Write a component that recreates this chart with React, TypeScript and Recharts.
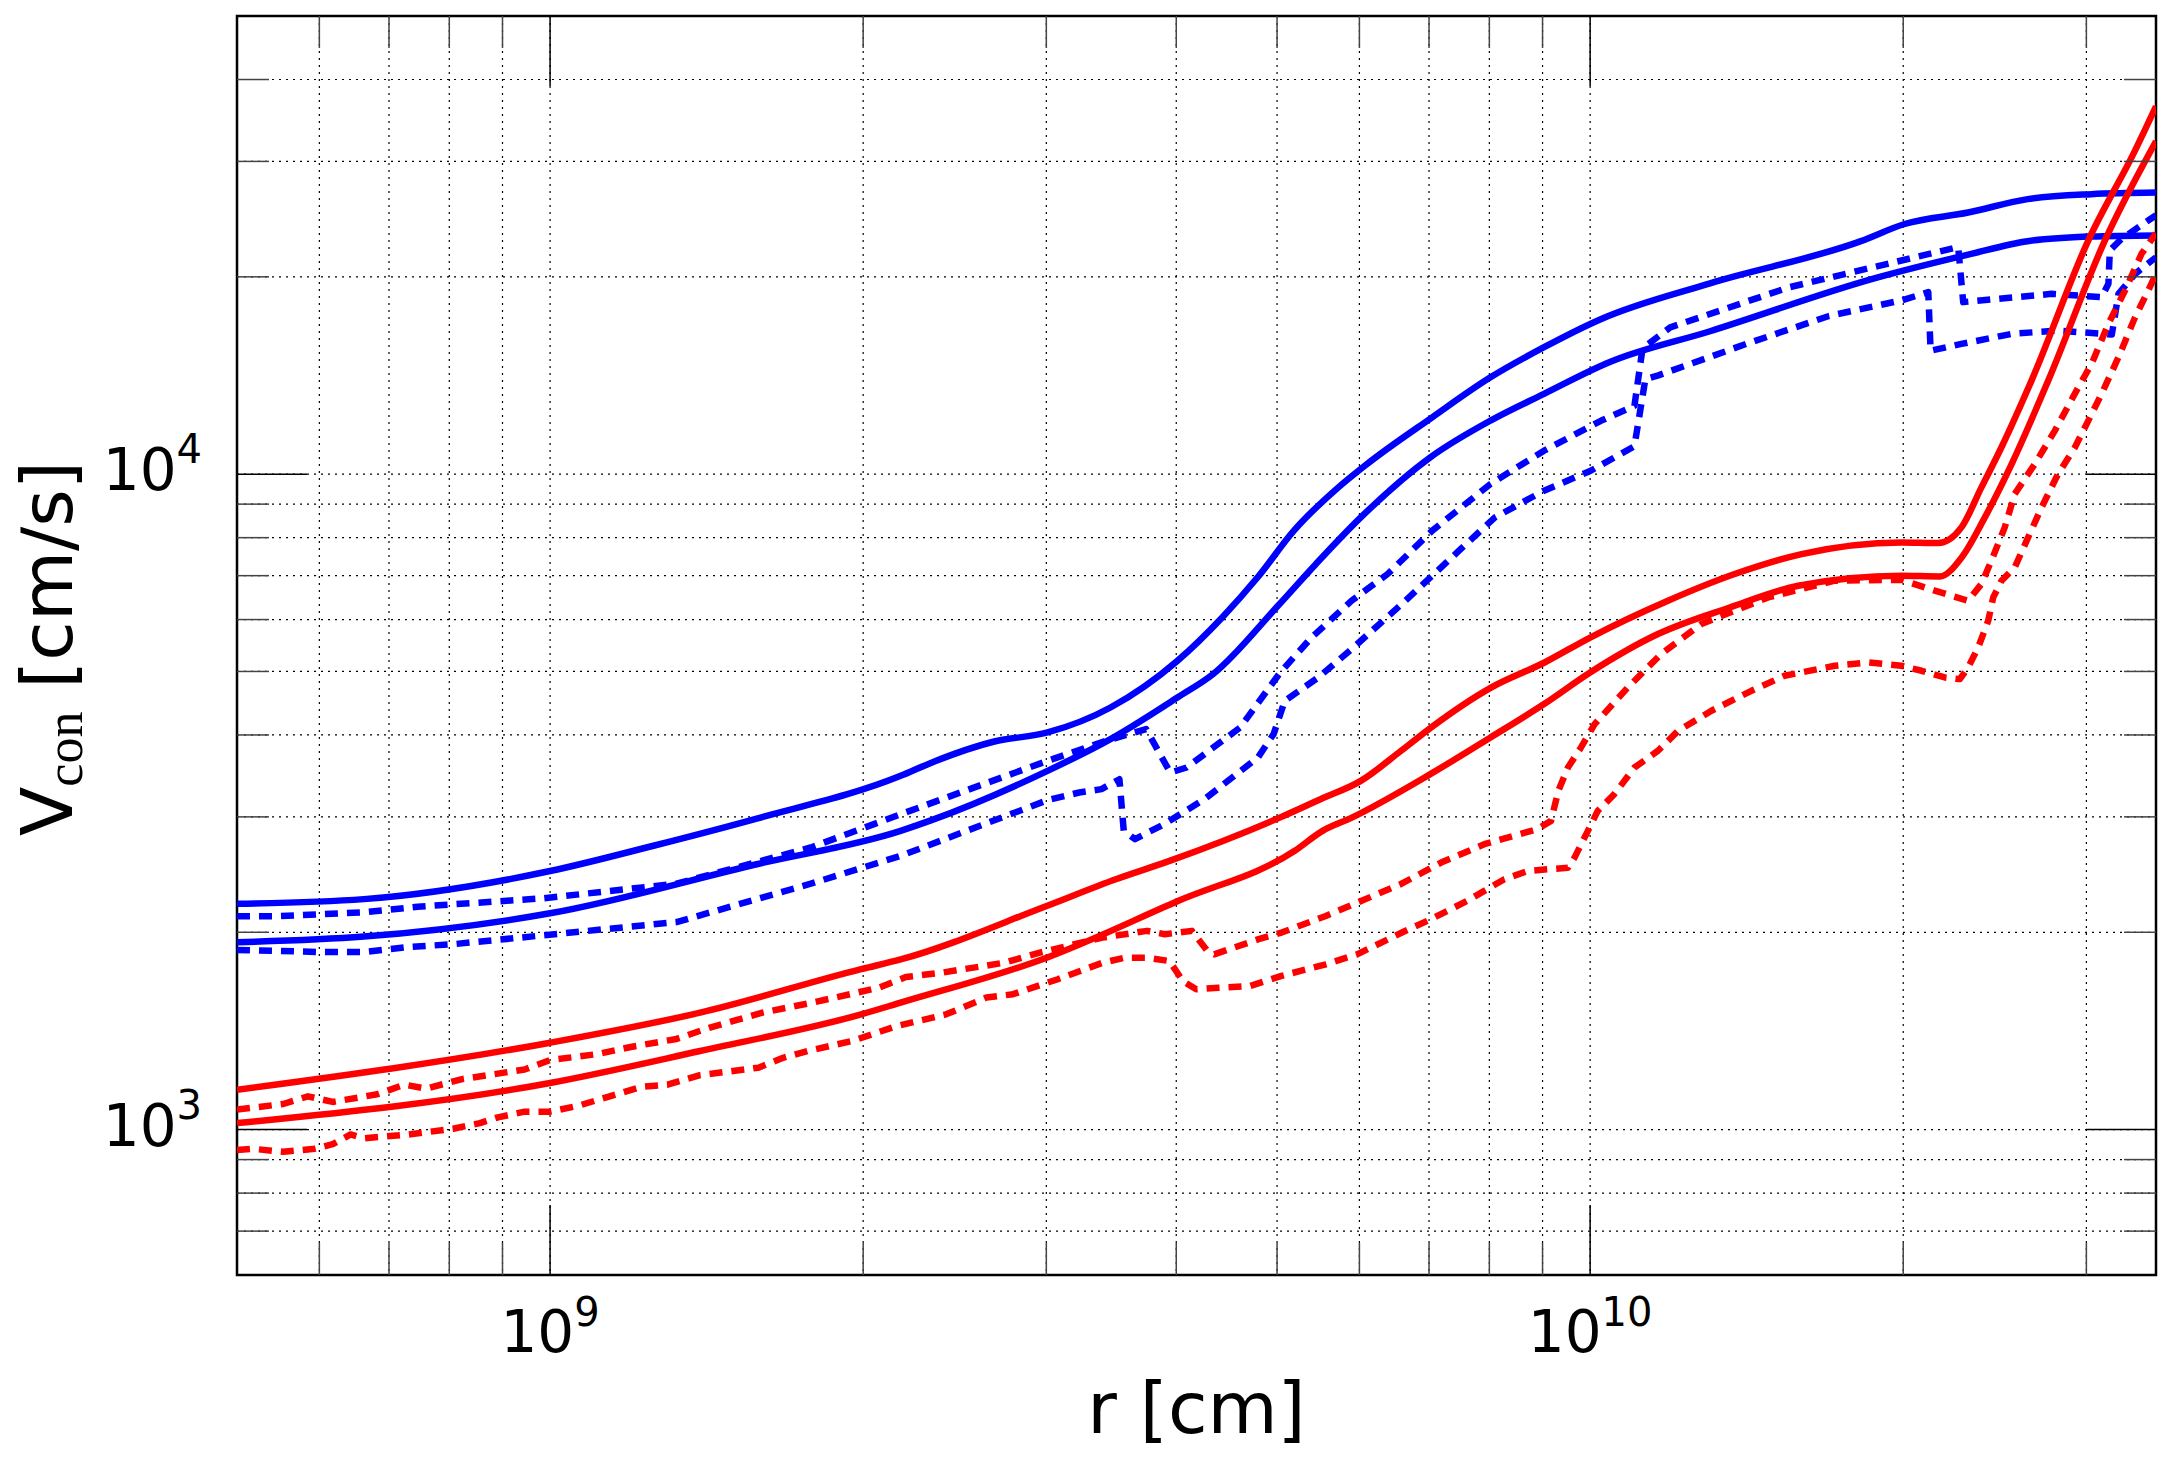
import { LineChart, Line, XAxis, YAxis, CartesianGrid, ReferenceArea } from "recharts";

type Pt = { r: number; v: number };
const pts = (rows: number[][]): Pt[] => rows.map(([r, v]) => ({ r, v }));

// r [cm] vs V_con [cm/s]
const blueSolidUpper = pts([
  [5e8, 2210], [6.62e8, 2247], [1.0e9, 2480], [1.26e9, 2713], [1.58e9, 2982], [2.173e9, 3465],
  [2.32e9, 3623], [2.674e9, 3909], [3.008e9, 4035], [3.458e9, 4405], [4.011e9, 5192], [4.428e9, 6045],
  [4.79e9, 6960], [5.19e9, 8200], [5.727e9, 9547], [6.077e9, 10310], [7.05e9, 12210], [8.02e9, 14050],
  [9.03e9, 15620], [1.025e10, 17250], [1.304e10, 19550], [1.821e10, 22670], [2.006e10, 24080],
  [2.309e10, 25070], [2.634e10, 26280], [3.033e10, 26740], [3.5e10, 26890],
]);

const blueSolidLower = pts([
  [5e8, 1931], [6.62e8, 1970], [1.0e9, 2138], [1.58e9, 2540], [2.173e9, 2856], [2.32e9, 2960],
  [3.008e9, 3526], [3.458e9, 3942], [4.01e9, 4562], [4.341e9, 4955], [5.01e9, 6298], [5.45e9, 7295],
  [6.018e9, 8590], [7.02e9, 10610], [8.02e9, 12070], [9.03e9, 13260], [1.046e10, 14840],
  [1.304e10, 16520], [1.887e10, 19940], [2.309e10, 21620], [2.634e10, 22670], [3.033e10, 23040],
  [3.5e10, 23130],
]);

const blueDashedUpper = pts([
  [5e8, 2115], [5.43e8, 2115], [6.62e8, 2145], [7.46e8, 2188], [9.83e8, 2253], [1.323e9, 2372],
  [1.781e9, 2694], [2.173e9, 3028], [3.008e9, 3652], [3.424e9, 3918], [3.742e9, 4083], [3.947e9, 3505],
  [4.093e9, 3568], [4.607e9, 4106], [5.036e9, 4982], [5.396e9, 5633], [5.898e9, 6411], [6.387e9, 7041],
  [7.05e9, 8200], [8.02e9, 9661], [9.03e9, 10860], [1.025e10, 12070], [1.103e10, 12710],
  [1.123e10, 15550], [1.194e10, 16750], [1.554e10, 19280], [1.992e10, 21180], [2.259e10, 22200],
  [2.284e10, 18300], [2.778e10, 18840], [3.103e10, 18620], [3.15e10, 19520], [3.16e10, 21940],
  [3.244e10, 22860], [3.44e10, 24380], [3.5e10, 24830],
]);

const blueDashedLower = pts([
  [5e8, 1880], [6.0e8, 1866], [6.62e8, 1866], [7.31e8, 1899], [8.07e8, 1918], [9.83e8, 1978],
  [1.323e9, 2073], [1.781e9, 2372], [2.173e9, 2616], [3.008e9, 3181], [3.227e9, 3268], [3.39e9, 3307],
  [3.527e9, 3424], [3.561e9, 2856], [3.651e9, 2774], [3.894e9, 2924], [4.257e9, 3192], [4.792e9, 3695],
  [4.962e9, 4012], [5.086e9, 4510], [5.477e9, 4895], [5.898e9, 5409], [6.643e9, 6411], [7.48e9, 7642],
  [8.1e9, 8590], [9.03e9, 9437], [1.0e10, 10110], [1.103e10, 11030], [1.13e10, 13960],
  [1.163e10, 14150], [1.424e10, 15870], [1.697e10, 17430], [1.992e10, 18410], [2.114e10, 18950],
  [2.125e10, 15430], [2.275e10, 15800], [2.543e10, 16370], [2.818e10, 16560], [3.174e10, 16330],
  [3.221e10, 18840], [3.342e10, 20210], [3.5e10, 21430],
]);

const redSolidUpper = pts([
  [5e8, 1150], [1.0e9, 1357], [1.394e9, 1508], [1.991e9, 1757], [2.173e9, 1818], [3.002e9, 2194],
  [3.499e9, 2410], [3.941e9, 2570], [5.03e9, 2992], [5.505e9, 3192], [6.018e9, 3404], [6.58e9, 3784],
  [7.03e9, 4106], [8.03e9, 4725], [9.04e9, 5160], [1.0e10, 5633], [1.188e10, 6411], [1.377e10, 7041],
  [1.597e10, 7552], [1.992e10, 7868], [2.161e10, 7850], [2.275e10, 8294], [2.378e10, 9545],
  [2.486e10, 10990], [2.657e10, 13890], [3.013e10, 22730], [3.342e10, 31190], [3.5e10, 36400],
]);

const redSolidLower = pts([
  [5e8, 1023], [1.0e9, 1178], [1.394e9, 1318], [1.991e9, 1499], [2.173e9, 1562], [3.002e9, 1829],
  [4.02e9, 2234], [5.2e9, 2663], [5.53e9, 2856], [5.9e9, 2992], [7.02e9, 3486], [8.02e9, 3965],
  [9.03e9, 4459], [1.0e10, 4982], [1.162e10, 5702], [1.362e10, 6260], [1.585e10, 6757],
  [1.992e10, 6998], [2.169e10, 6982], [2.276e10, 7463], [2.396e10, 8590], [2.543e10, 10370],
  [2.757e10, 13890], [3.126e10, 22730], [3.5e10, 32200],
]);

const redDashedUpper = pts([
  [5e8, 1073], [5.54e8, 1094], [5.85e8, 1124], [6.18e8, 1102], [6.82e8, 1132], [7.24e8, 1171],
  [7.6e8, 1155], [8.23e8, 1194], [9.45e8, 1235], [1.0e9, 1277], [1.108e9, 1303], [1.199e9, 1338],
  [1.323e9, 1375], [1.422e9, 1430], [1.6e9, 1508], [1.786e9, 1562], [2.071e9, 1646], [2.198e9, 1709],
  [2.379e9, 1735], [2.732e9, 1797], [2.957e9, 1862], [3.397e9, 1963], [3.75e9, 2010], [3.9e9, 1986],
  [4.14e9, 2010], [4.285e9, 1873], [4.35e9, 1851], [4.8e9, 1952], [5.05e9, 1998], [5.57e9, 2118],
  [6.03e9, 2234], [6.58e9, 2370], [7.19e9, 2555], [7.91e9, 2725], [8.9e9, 2873], [9.17e9, 2958],
  [9.32e9, 3287], [9.52e9, 3568], [9.8e9, 3828], [1.01e10, 4155], [1.087e10, 4726], [1.17e10, 5315],
  [1.279e10, 5906], [1.483e10, 6486], [1.719e10, 6877], [1.992e10, 6900], [2.145e10, 6640],
  [2.309e10, 6411], [2.378e10, 6797], [2.431e10, 7379], [2.504e10, 8294], [2.56e10, 9328],
  [2.677e10, 10370], [2.798e10, 11650], [2.947e10, 13570], [3.035e10, 14730], [3.15e10, 16960],
  [3.268e10, 19060], [3.39e10, 21690], [3.5e10, 23300],
]);

const redDashedLower = pts([
  [5e8, 931], [5.17e8, 935], [5.54e8, 925], [5.94e8, 935], [6.18e8, 950], [6.43e8, 983], [6.62e8, 970],
  [7.31e8, 983], [8.07e8, 1003], [8.56e8, 1023], [8.91e8, 1044], [9.45e8, 1065], [1.0e9, 1065],
  [1.064e9, 1087], [1.141e9, 1124], [1.223e9, 1162], [1.297e9, 1171], [1.391e9, 1210], [1.586e9, 1243],
  [1.675e9, 1287], [1.768e9, 1318], [1.952e9, 1365], [2.155e9, 1439], [2.403e9, 1499], [2.627e9, 1590],
  [2.787e9, 1609], [3.077e9, 1696], [3.397e9, 1797], [3.568e9, 1829], [3.75e9, 1829], [3.94e9, 1808],
  [4.059e9, 1685], [4.181e9, 1637], [4.393e9, 1646], [4.71e9, 1656], [5.05e9, 1716], [5.57e9, 1787],
  [5.97e9, 1851], [6.6e9, 2000], [7.03e9, 2094], [7.62e9, 2234], [8.27e9, 2410], [8.71e9, 2481],
  [9.1e9, 2495], [9.52e9, 2509], [9.66e9, 2600], [9.95e9, 2856], [1.017e10, 3064], [1.055e10, 3249],
  [1.103e10, 3568], [1.162e10, 3784], [1.215e10, 4058], [1.308e10, 4355], [1.429e10, 4671],
  [1.538e10, 4925], [1.719e10, 5101], [1.851e10, 5160], [1.992e10, 5101], [2.083e10, 5012],
  [2.193e10, 4895], [2.267e10, 4867], [2.309e10, 5070], [2.361e10, 5440], [2.414e10, 5975],
  [2.441e10, 6486], [2.486e10, 6877], [2.56e10, 7205], [2.637e10, 8007], [2.717e10, 8898],
  [2.818e10, 10010], [2.925e10, 10990], [3.013e10, 12070], [3.103e10, 13260], [3.221e10, 15080],
  [3.342e10, 17360], [3.44e10, 19060], [3.5e10, 20210],
]);

const xDomain = [5e8, 3.5e10];
const yDomain = [600, 5e4];
const xTicks = [6e8, 7e8, 8e8, 9e8, 1e9, 2e9, 3e9, 4e9, 5e9, 6e9, 7e9, 8e9, 9e9, 1e10, 2e10, 3e10];
const yTicks = [700, 800, 900, 1e3, 2e3, 3e3, 4e3, 5e3, 6e3, 7e3, 8e3, 9e3, 1e4, 2e4, 3e4, 4e4];

const W = 2172;
const H = 1463;
const Y_AXIS_W = 237;
const X_AXIS_H = 188;
const PLOT_TOP = 16;
const PLOT_RIGHT = 2156;
const PLOT_BOTTOM = H - X_AXIS_H;
const FONT = "DejaVu Sans";

const exponent = (v: number) => {
  const e = Math.log10(v);
  return Math.abs(e - Math.round(e)) < 1e-9 ? Math.round(e) : null;
};

function XTick(props: any) {
  const { x, y, payload } = props;
  const e = exponent(payload.value);
  const len = e !== null ? 70 : 32;
  const col = e !== null ? "#000" : "#444";
  const top = PLOT_TOP;
  return (
    <g>
      <line x1={x} y1={y} x2={x} y2={y - len} stroke={col} strokeWidth={1.5} />
      <line x1={x} y1={top} x2={x} y2={top + len} stroke={col} strokeWidth={1.5} />
      {e !== null && (
        <text x={x} y={y + 77} textAnchor="middle" fontSize={58} fontFamily={FONT} fill="#000">
          10<tspan dy={-26} fontSize={40}>{e}</tspan>
        </text>
      )}
    </g>
  );
}

function YTick(props: any) {
  const { x, y, payload } = props;
  const e = exponent(payload.value);
  const len = e !== null ? 70 : 32;
  const col = e !== null ? "#000" : "#444";
  return (
    <g>
      <line x1={x} y1={y} x2={x + len} y2={y} stroke={col} strokeWidth={1.5} />
      <line x1={PLOT_RIGHT} y1={y} x2={PLOT_RIGHT - len} y2={y} stroke={col} strokeWidth={1.5} />
      {e !== null && (
        <text x={x - 35} y={y + 16} textAnchor="end" fontSize={58} fontFamily={FONT} fill="#000">
          10<tspan dy={-27} fontSize={40}>{e}</tspan>
        </text>
      )}
    </g>
  );
}

function XTitle(props: any) {
  const vb = props.viewBox || { x: Y_AXIS_W, y: PLOT_BOTTOM, width: PLOT_RIGHT - Y_AXIS_W, height: X_AXIS_H };
  return (
    <text x={vb.x + vb.width / 2} y={vb.y + 158} textAnchor="middle" fontSize={72} fontFamily={FONT} fill="#000">
      r [cm]
    </text>
  );
}

function YTitle(props: any) {
  const vb = props.viewBox || { x: 0, y: PLOT_TOP, width: Y_AXIS_W, height: PLOT_BOTTOM - PLOT_TOP };
  const cx = vb.x + 72;
  const cy = vb.y + vb.height / 2 + 3;
  return (
    <text
      x={cx}
      y={cy}
      transform={`rotate(-90 ${cx} ${cy})`}
      textAnchor="middle"
      fontSize={72}
      fontFamily={FONT}
      fill="#000"
    >
      V
      <tspan dy={10} fontSize={52} fontFamily="Liberation Serif">con</tspan>
      <tspan dy={-10}> [cm/s]</tspan>
    </text>
  );
}

const lineBase = { dataKey: "v", dot: false, activeDot: false, isAnimationActive: false, strokeWidth: 6.5, strokeLinejoin: "round" as const };
const solid = { ...lineBase, type: "monotoneX" as const };
const dashed = { ...lineBase, type: "linear" as const, strokeDasharray: "13 9" };

export default function App() {
  return (
    <div style={{ position: "absolute", left: 0, top: 0, width: W, height: H, background: "#fff" }}>
      <LineChart width={W} height={H} margin={{ top: PLOT_TOP, right: W - PLOT_RIGHT, bottom: 0, left: 0 }}>
        <CartesianGrid stroke="#000" strokeDasharray="2 5" strokeWidth={1.2} />
        <XAxis
          dataKey="r"
          type="number"
          scale="log"
          domain={xDomain}
          allowDataOverflow
          ticks={xTicks}
          interval={0}
          tick={XTick}
          tickLine={false}
          axisLine={false}
          tickSize={0}
          tickMargin={0}
          height={X_AXIS_H}
          label={XTitle}
        />
        <YAxis
          type="number"
          scale="log"
          domain={yDomain}
          allowDataOverflow
          ticks={yTicks}
          interval={0}
          tick={YTick}
          tickLine={false}
          axisLine={false}
          tickSize={0}
          tickMargin={0}
          width={Y_AXIS_W}
          label={YTitle}
        />
        <ReferenceArea
          x1={xDomain[0]}
          x2={xDomain[1]}
          y1={yDomain[0]}
          y2={yDomain[1]}
          fill="none"
          fillOpacity={0}
          stroke="#000"
          strokeWidth={2.5}
          ifOverflow="visible"
        />
        <Line {...solid} data={blueSolidUpper} stroke="#0000ff" name="blueSolidUpper" />
        <Line {...solid} data={blueSolidLower} stroke="#0000ff" name="blueSolidLower" />
        <Line {...dashed} data={blueDashedUpper} stroke="#0000ff" name="blueDashedUpper" />
        <Line {...dashed} data={blueDashedLower} stroke="#0000ff" name="blueDashedLower" />
        <Line {...solid} data={redSolidUpper} stroke="#ff0000" name="redSolidUpper" />
        <Line {...solid} data={redSolidLower} stroke="#ff0000" name="redSolidLower" />
        <Line {...dashed} data={redDashedUpper} stroke="#ff0000" name="redDashedUpper" />
        <Line {...dashed} data={redDashedLower} stroke="#ff0000" name="redDashedLower" />
      </LineChart>
    </div>
  );
}
